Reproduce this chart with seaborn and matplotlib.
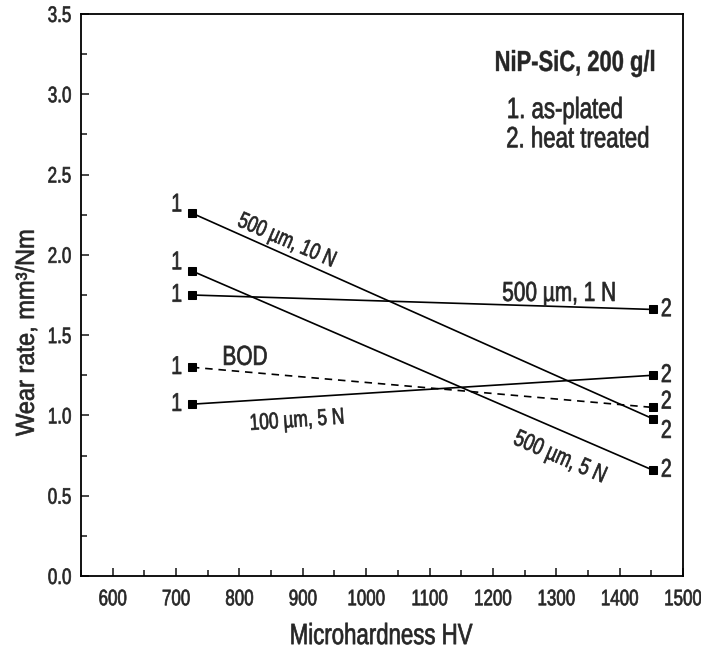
import matplotlib
matplotlib.use("Agg")
import matplotlib.pyplot as plt
import seaborn as sns
import pandas as pd
from matplotlib.ticker import MultipleLocator, FormatStrFormatter
from matplotlib.patheffects import AbstractPathEffect
from matplotlib.transforms import Affine2D

# Microhardness of the coatings (as-plated, heat treated)
hardness = [725, 1452]

# Wear rate, mm^3/Nm, for each test condition
wear_500um_10N = [2.26, 0.98]
wear_500um_5N = [1.90, 0.66]
wear_500um_1N = [1.75, 1.66]
wear_bod = [1.30, 1.05]
wear_100um_5N = [1.07, 1.25]

series_names = ["500 µm, 10 N", "500 µm, 5 N", "500 µm, 1 N", "BOD", "100 µm, 5 N"]
series_values = [wear_500um_10N, wear_500um_5N, wear_500um_1N, wear_bod, wear_100um_5N]
series_dashed = [False, False, False, True, False]
state_labels = ["1", "2"]


class Stretch(AbstractPathEffect):
    """Draw glyphs taller than wide (condensed look), scaled about mid cap height,
    with a hairline outline so the strokes read a little heavier."""

    def __init__(self, sy=1.3, pivot=36.0, stroke=0.5):
        super().__init__()
        self.sy = sy
        self.pivot = pivot
        self.stroke = stroke

    def draw_path(self, renderer, gc, tpath, affine, rgbFace=None):
        pre = Affine2D().translate(0, -self.pivot).scale(1, self.sy).translate(0, self.pivot)
        gc0 = renderer.new_gc()
        gc0.copy_properties(gc)
        if rgbFace is not None and self.stroke > 0:
            gc0.set_linewidth(self.stroke)
            gc0.set_foreground(rgbFace)
        renderer.draw_path(gc0, tpath, pre + affine, rgbFace)
        gc0.restore()


SY = 1.32
tall = [Stretch(SY)]

sns.set_theme(style="ticks")
plt.rcParams["font.family"] = ["Liberation Sans", "DejaVu Sans"]

rows = []
for name, vals in zip(series_names, series_values):
    for h, v in zip(hardness, vals):
        rows.append({"hardness": h, "wear": v, "series": name})
df = pd.DataFrame(rows)

fig = plt.figure(figsize=(7.01, 6.53), dpi=100)
ax = fig.add_axes([0.1155, 0.1179, 0.8588, 0.8607])

for name, dashed in zip(series_names, series_dashed):
    sub = df[df["series"] == name]
    sns.lineplot(data=sub, x="hardness", y="wear", ax=ax, color="black",
                 linewidth=1.2, linestyle=(0, (4.5, 3.5)) if dashed else "-",
                 marker="s", markersize=5.8, markeredgecolor="black",
                 markerfacecolor="black", legend=False)

# state numbers beside the end markers (points offsets keep close pairs apart)
left_dy = {"500 µm, 10 N": 6, "500 µm, 5 N": 6}
right_dy = {"500 µm, 10 N": -9, "BOD": 4}
for name, vals in zip(series_names, series_values):
    ax.annotate(state_labels[0], (hardness[0], vals[0]), xytext=(-7, left_dy.get(name, 0)),
                textcoords="offset points", ha="right", va="center", fontsize=14,
                path_effects=tall)
    ax.annotate(state_labels[1], (hardness[1], vals[1]), xytext=(6, right_dy.get(name, 0)),
                textcoords="offset points", ha="left", va="center", fontsize=14,
                path_effects=tall)

# condition labels along the lines
ax.text(875, 2.09, "500 µm, 10 N", rotation=-23.5, ha="center", va="center",
        fontsize=12.5, path_effects=tall, rotation_mode="anchor")
ax.text(1306, 0.74, "500 µm, 5 N", rotation=-23.5, ha="center", va="center",
        fontsize=13, path_effects=tall, rotation_mode="anchor")
ax.text(1305, 1.762, "500 µm, 1 N", ha="center", va="center", fontsize=15, path_effects=tall)
ax.text(809, 1.364, "BOD", ha="center", va="center", fontsize=15, path_effects=tall)
ax.text(891, 0.97, "100 µm, 5 N", rotation=4, ha="center", va="center",
        fontsize=12.5, path_effects=tall, rotation_mode="anchor")

ax.text(1330, 3.195, "NiP-SiC, 200 g/l", ha="center", va="center", fontsize=15.8,
        fontweight="bold", path_effects=[Stretch(SY, stroke=0.3)])
ax.text(1222, 2.902, "1. as-plated", ha="left", va="center", fontsize=16, path_effects=tall)
ax.text(1221, 2.72, "2. heat treated", ha="left", va="center", fontsize=16, path_effects=tall)

ax.set_xlim(550, 1500)
ax.set_ylim(0, 3.5)
ax.xaxis.set_major_locator(MultipleLocator(100))
ax.xaxis.set_minor_locator(MultipleLocator(50))
ax.yaxis.set_major_locator(MultipleLocator(0.5))
ax.yaxis.set_minor_locator(MultipleLocator(0.25))
ax.yaxis.set_major_formatter(FormatStrFormatter("%.1f"))
ax.tick_params(which="both", direction="in", top=False, right=False, labelsize=12.2)
ax.tick_params(which="major", length=6, width=1.2)
ax.tick_params(which="minor", length=4, width=1.2)
ax.tick_params(axis="x", pad=11)
ax.tick_params(axis="y", pad=7)
for s in ax.spines.values():
    s.set_linewidth(1.3)
    s.set_color("black")

ax.set_xlabel("Microhardness HV", fontsize=16, path_effects=tall)
ax.set_ylabel("Wear rate, mm³/Nm", fontsize=17, path_effects=[Stretch(1.1)])
ax.xaxis.label.set_va("center")
ax.yaxis.label.set_va("center")
ax.xaxis.set_label_coords(0.499, -0.1068)
ax.yaxis.set_label_coords(-0.0897, 0.433)

for tick in ax.xaxis.get_major_ticks() + ax.yaxis.get_major_ticks():
    tick.label1.set_path_effects(tall)

fig.savefig("out.png", dpi=100, facecolor="white")
